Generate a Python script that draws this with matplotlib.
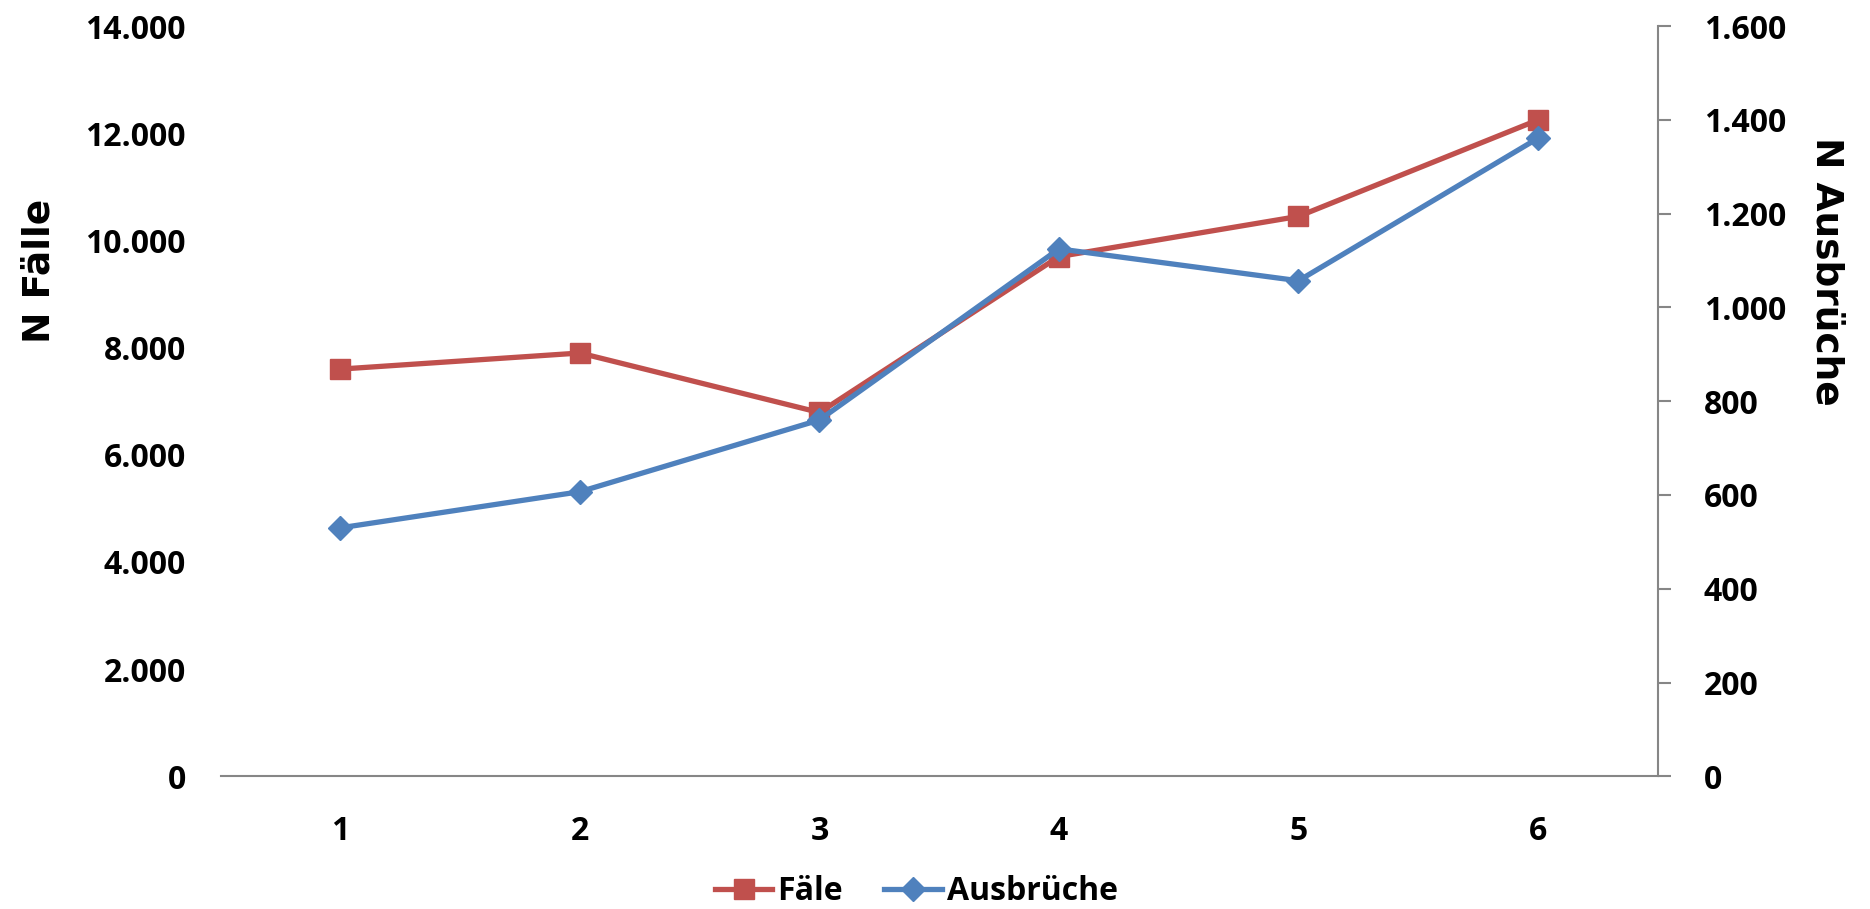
import matplotlib
matplotlib.use("Agg")
import matplotlib.pyplot as plt
from matplotlib.ticker import FuncFormatter, MultipleLocator

# yearly counts: cases (left axis) and outbreaks (right axis)
periods = [1, 2, 3, 4, 5, 6]
faelle = [7600, 7900, 6790, 9700, 10450, 12250]
ausbrueche = [530, 607, 760, 1125, 1057, 1361]

RED = "#C0504D"
BLUE = "#4F81BD"
GREY = "#868686"

plt.rcParams["font.family"] = ["Open Sans", "DejaVu Sans"]
plt.rcParams["font.weight"] = "bold"


def thousands(v, pos):
    return f"{v:,.0f}".replace(",", ".")


fig = plt.figure(figsize=(18.7, 9.09), dpi=100)
ax1 = fig.add_axes([0.118, 0.146, 0.7685, 0.8252])
ax2 = ax1.twinx()

l1, = ax1.plot(periods, faelle, color=RED, lw=3.8, marker="s", ms=14,
               label="Fäle")
l2, = ax2.plot(periods, ausbrueche, color=BLUE, lw=3.8, marker="D", ms=12,
               label="Ausbrüche")

ax1.set_xlim(0.5, 6.5)
ax1.set_ylim(0, 14000)
ax2.set_ylim(0, 1600)
ax1.yaxis.set_major_locator(MultipleLocator(2000))
ax2.yaxis.set_major_locator(MultipleLocator(200))
ax1.yaxis.set_major_formatter(FuncFormatter(thousands))
ax2.yaxis.set_major_formatter(FuncFormatter(thousands))
ax1.set_xticks(periods)

for ax in (ax1, ax2):
    for s in ax.spines.values():
        s.set_visible(False)
ax1.spines["bottom"].set_visible(True)
ax1.spines["bottom"].set_color(GREY)
ax1.spines["bottom"].set_linewidth(1.5)
ax2.spines["right"].set_visible(True)
ax2.spines["right"].set_color(GREY)
ax2.spines["right"].set_linewidth(1.5)

ax1.tick_params(axis="y", length=0, pad=25, labelsize=23)
ax1.tick_params(axis="x", length=0, pad=28, labelsize=23)
ax2.tick_params(axis="y", length=9, width=1.5, color=GREY, direction="out",
                pad=24, labelsize=23)
for lab in ax1.get_yticklabels() + ax1.get_xticklabels() + ax2.get_yticklabels():
    lab.set_fontweight("bold")

fig.text(0.021, 0.702, "N Fälle", rotation=90, ha="center", va="center",
         fontsize=27, fontweight="bold", family=["DejaVu Sans"])
fig.text(0.977, 0.702, "N Ausbrüche", rotation=-90, ha="center", va="center",
         fontsize=27, fontweight="bold", family=["DejaVu Sans"])

fig.legend(handles=[l1, l2], loc="center", bbox_to_anchor=(0.49, 0.019),
           ncol=2, frameon=False, handlelength=1.8,
           handletextpad=0.15, columnspacing=1.3,
           prop={"weight": "bold", "size": 23})

fig.savefig("out.png", dpi=100)
